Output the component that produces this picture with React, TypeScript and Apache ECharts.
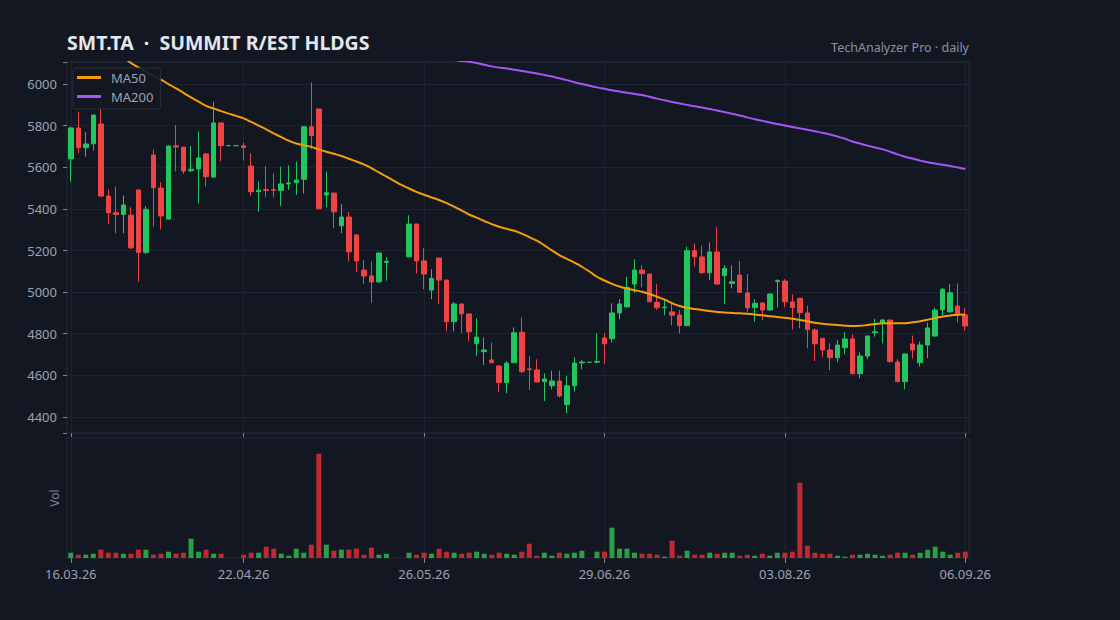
import React, { useEffect, useRef } from 'react';
import * as echarts from 'echarts';

const TITLE = 'SMT.TA  ·  SUMMIT R/EST HLDGS';
const SUBTITLE = 'TechAnalyzer Pro · daily';

const dates: string[] = [
  '16.03.26', '17.03.26', '18.03.26', '19.03.26', '20.03.26', '23.03.26', '24.03.26', '25.03.26', '26.03.26', '27.03.26',
  '30.03.26', '31.03.26', '01.04.26', '06.04.26', '07.04.26', '10.04.26', '13.04.26', '14.04.26', '15.04.26', '16.04.26',
  '17.04.26', '20.04.26', '21.04.26', '22.04.26', '23.04.26', '24.04.26', '27.04.26', '28.04.26', '29.04.26', '30.04.26',
  '01.05.26', '04.05.26', '05.05.26', '06.05.26', '07.05.26', '08.05.26', '11.05.26', '12.05.26', '13.05.26', '14.05.26',
  '15.05.26', '18.05.26', '19.05.26', '20.05.26', '21.05.26', '22.05.26', '25.05.26', '26.05.26', '27.05.26', '28.05.26',
  '29.05.26', '01.06.26', '02.06.26', '03.06.26', '04.06.26', '05.06.26', '08.06.26', '09.06.26', '10.06.26', '11.06.26',
  '12.06.26', '15.06.26', '16.06.26', '17.06.26', '18.06.26', '19.06.26', '22.06.26', '23.06.26', '24.06.26', '25.06.26',
  '26.06.26', '29.06.26', '30.06.26', '01.07.26', '02.07.26', '03.07.26', '06.07.26', '07.07.26', '08.07.26', '09.07.26',
  '10.07.26', '13.07.26', '14.07.26', '15.07.26', '16.07.26', '17.07.26', '20.07.26', '21.07.26', '22.07.26', '24.07.26',
  '27.07.26', '28.07.26', '29.07.26', '30.07.26', '31.07.26', '03.08.26', '04.08.26', '05.08.26', '06.08.26', '07.08.26',
  '10.08.26', '11.08.26', '12.08.26', '13.08.26', '14.08.26', '17.08.26', '18.08.26', '19.08.26', '20.08.26', '21.08.26',
  '24.08.26', '25.08.26', '26.08.26', '27.08.26', '28.08.26', '31.08.26', '01.09.26', '02.09.26', '03.09.26', '06.09.26',
];

// [open, close, low, high]
const ohlc: (number[] | null)[] = [
  [5640, 5789, 5531, 5795], [5789, 5694, 5667, 5867], [5694, 5712, 5651, 5768], [5713, 5851, 5680, 5853], [5808, 5462, 5458, 5925],
  [5462, 5382, 5326, 5494], [5382, 5373, 5283, 5507], [5373, 5419, 5283, 5465], [5370, 5213, 5207, 5408], [5491, 5191, 5050, 5493],
  [5191, 5398, 5183, 5414], [5659, 5502, 5314, 5686], [5500, 5366, 5302, 5528], [5351, 5702, 5348, 5705], [5703, 5697, 5580, 5803],
  [5697, 5582, 5568, 5699], [5583, 5591, 5577, 5702], [5592, 5645, 5427, 5773], [5664, 5555, 5507, 5668], [5553, 5813, 5550, 5915],
  [5813, 5704, 5629, 5815], [5704, 5704, 5704, 5704], [5704, 5704, 5704, 5704], [5703, 5695, 5633, 5718], [5606, 5483, 5463, 5667],
  [5483, 5490, 5386, 5531], [5492, 5489, 5458, 5606], [5492, 5489, 5456, 5571], [5488, 5520, 5415, 5603], [5520, 5525, 5491, 5610],
  [5526, 5539, 5467, 5627], [5542, 5795, 5474, 5797], [5795, 5752, 5686, 6008], [5880, 5401, 5398, 5883], [5467, 5478, 5408, 5579],
  [5476, 5386, 5307, 5478], [5319, 5361, 5283, 5422], [5361, 5194, 5146, 5386], [5275, 5150, 5098, 5277], [5106, 5077, 5039, 5154],
  [5078, 5049, 4949, 5146], [5049, 5188, 5047, 5190], [5143, 5148, 5055, 5167], null, null,
  [5170, 5327, 5168, 5369], [5327, 5150, 5090, 5329], [5150, 5087, 5014, 5211], [5010, 5066, 4966, 5110], [5164, 5058, 4942, 5166],
  [5058, 4858, 4812, 5060], [4858, 4943, 4812, 4953], [4943, 4896, 4804, 4945], [4895, 4810, 4762, 4897], [4752, 4784, 4693, 4874],
  [4714, 4722, 4650, 4783], [4674, 4661, 4659, 4757], [4645, 4565, 4519, 4647], [4565, 4659, 4514, 4668], [4661, 4805, 4659, 4831],
  [4807, 4618, 4610, 4879], [4631, 4627, 4530, 4693], [4626, 4568, 4566, 4677], [4570, 4583, 4477, 4610], [4550, 4573, 4533, 4622],
  [4573, 4501, 4494, 4622], [4459, 4550, 4418, 4598], [4550, 4659, 4522, 4687], [4660, 4664, 4629, 4674], [4663, 4663, 4663, 4663],
  [4663, 4667, 4661, 4802], [4780, 4752, 4655, 4802], [4776, 4900, 4757, 4946], [4900, 4943, 4869, 4966], [4929, 5023, 4927, 5074],
  [5039, 5106, 4997, 5158], [5106, 5089, 5023, 5130], [5087, 4954, 4952, 5089], [4951, 4925, 4914, 5038], [4925, 4928, 4889, 4962],
  [4905, 4889, 4841, 4954], [4890, 4839, 4802, 4914], [4839, 5199, 4837, 5218], [5199, 5170, 5122, 5234], [5169, 5093, 5090, 5223],
  [5093, 5193, 5058, 5239], [5193, 5039, 5034, 5312], [5079, 5114, 4942, 5130], [5041, 5050, 5018, 5129], [5082, 4999, 4996, 5150],
  [4996, 4925, 4906, 5087], [4925, 4946, 4858, 4966], [4948, 4914, 4866, 4950], [4914, 4991, 4912, 4993], [5051, 5055, 4927, 5062],
  [5053, 4954, 4927, 5062], [4953, 4926, 4821, 4990], [4970, 4901, 4826, 4972], [4900, 4820, 4730, 4935], [4818, 4752, 4669, 4826],
  [4778, 4722, 4687, 4780], [4722, 4685, 4626, 4754], [4685, 4746, 4663, 4770], [4733, 4775, 4701, 4807], [4775, 4608, 4606, 4797],
  [4608, 4693, 4586, 4711], [4693, 4789, 4677, 4791], [4805, 4809, 4786, 4872], [4853, 4866, 4754, 4870], [4866, 4666, 4662, 4868],
  [4664, 4570, 4567, 4677], [4570, 4703, 4533, 4705], [4751, 4722, 4682, 4791], [4661, 4746, 4642, 4762], [4746, 4828, 4682, 4853],
  [4789, 4914, 4786, 4925], [4914, 5014, 4890, 5021], [4905, 4997, 4903, 5038], [4933, 4890, 4853, 5042], [4890, 4837, 4815, 4922],
];

// volume, thousands of shares
const volumes: (number | null)[] = [
  53, 33, 33, 43, 83, 53, 53, 43, 43, 83,
  83, 33, 43, 63, 43, 53, 193, 63, 83, 43,
  43, null, null, 33, 53, 53, 113, 93, 43, 23,
  93, 53, 133, 1043, 133, 73, 83, 83, 93, 33,
  103, 33, 43, null, null, 53, 33, 53, 43, 93,
  63, 53, 43, 53, 63, 43, 33, 53, 43, 33,
  63, 143, 23, 53, 23, 53, 43, 53, 73, null,
  63, 63, 303, 93, 93, 53, 43, 43, 33, 13,
  173, 23, 73, 33, 33, 53, 43, 53, 53, 23,
  33, 23, 43, 23, 53, 53, 63, 753, 123, 53,
  43, 43, 23, 13, 33, 33, 43, 33, 23, 33,
  53, 53, 33, 53, 83, 113, 63, 33, 53, 63,
];

const ma50: number[] = [
  6310, 6285, 6260, 6235, 6208, 6182, 6155, 6128, 6102, 6080,
  6058, 6040, 6021, 6000, 5979, 5958, 5936, 5915, 5895, 5883,
  5870, 5858, 5847, 5835, 5818, 5800, 5782, 5763, 5745, 5728,
  5714, 5707, 5698, 5686, 5675, 5665, 5654, 5641, 5628, 5614,
  5596, 5575, 5555, 5535, 5515, 5498, 5482, 5468, 5455, 5443,
  5428, 5411, 5392, 5373, 5358, 5342, 5327, 5314, 5304, 5295,
  5281, 5264, 5247, 5225, 5201, 5178, 5160, 5142, 5122, 5099,
  5074, 5056, 5040, 5027, 5017, 5009, 5002, 4991, 4978, 4964,
  4947, 4933, 4925, 4919, 4914, 4909, 4905, 4902, 4900, 4898,
  4896, 4893, 4889, 4884, 4881, 4877, 4872, 4866, 4860, 4853,
  4848, 4845, 4842, 4839, 4837, 4838, 4842, 4847, 4850, 4850,
  4850, 4851, 4855, 4860, 4867, 4876, 4883, 4888, 4891, 4892,
];

const ma200: number[] = [
  6478, 6471, 6465, 6458, 6452, 6445, 6438, 6431, 6425, 6418,
  6411, 6404, 6398, 6391, 6384, 6377, 6370, 6363, 6356, 6349,
  6342, 6336, 6330, 6324, 6317, 6310, 6303, 6296, 6289, 6281,
  6273, 6265, 6257, 6249, 6241, 6233, 6225, 6217, 6209, 6201,
  6193, 6185, 6177, 6169, 6162, 6155, 6148, 6141, 6135, 6129,
  6122, 6115, 6111, 6107, 6101, 6093, 6085, 6079, 6075, 6069,
  6063, 6057, 6051, 6044, 6036, 6028, 6019, 6009, 6000, 5992,
  5984, 5977, 5970, 5964, 5958, 5952, 5947, 5939, 5930, 5922,
  5914, 5907, 5900, 5893, 5887, 5880, 5873, 5865, 5857, 5849,
  5840, 5831, 5823, 5815, 5808, 5801, 5794, 5787, 5780, 5773,
  5766, 5758, 5748, 5737, 5724, 5714, 5704, 5695, 5686, 5675,
  5662, 5651, 5642, 5632, 5624, 5618, 5612, 5606, 5599, 5592,
];

const BG = '#131722';
const UP = '#22c55e';
const DOWN = '#ef4444';
const VOL_UP = '#27a046';
const VOL_DOWN = '#c0292f';
const GRID_LINE = '#1e2331';
const BORDER = '#262b38';
const TICK = '#7d8494';
const LABEL = '#9aa3b2';
const FONT = "'Noto Sans', sans-serif";

export default function App() {
  const ref = useRef<HTMLDivElement>(null);

  useEffect(() => {
    if (!ref.current) return;
    const chart = echarts.init(ref.current, null, { renderer: 'svg' });
    const N = dates.length;
    const showIdx = (i: number) => i === 0 || (N - 1 - i) % 24 === 0;

    const volData = volumes.map((v, i) => {
      const c = ohlc[i];
      const up = c ? c[1] >= c[0] : true;
      return v == null ? '-' : { value: v, itemStyle: { color: up ? VOL_UP : VOL_DOWN } };
    });

    chart.setOption({
      animation: false,
      backgroundColor: BG,
      textStyle: { fontFamily: FONT },
      title: [
        {
          text: TITLE,
          left: 62,
          top: 27,
          textStyle: { color: '#e3e6ee', fontSize: 19.5, fontWeight: 'bold', fontFamily: FONT },
        },
        {
          text: SUBTITLE,
          right: 146,
          top: 36,
          textStyle: { color: '#8a91a0', fontSize: 12.5, fontWeight: 'normal', fontFamily: FONT },
        },
      ],
      legend: {
        data: ['MA50', 'MA200'],
        left: 73,
        top: 68,
        orient: 'vertical',
        icon: 'rect',
        itemWidth: 24,
        itemHeight: 3,
        itemGap: 6,
        padding: [3, 7, 6, 4],
        backgroundColor: 'rgba(19,23,34,0.9)',
        borderColor: '#2a2f3c',
        borderWidth: 1,
        borderRadius: 3,
        textStyle: { color: LABEL, fontSize: 13, fontFamily: FONT, padding: [0, 0, 0, 5] },
      },
      grid: [
        { left: 67, right: 151, top: 62, height: 371, show: true, borderColor: BORDER, borderWidth: 1 },
        { left: 67, right: 151, top: 438, height: 120, show: true, borderColor: BORDER, borderWidth: 1 },
      ],
      xAxis: [
        {
          type: 'category',
          gridIndex: 0,
          data: dates,
          boundaryGap: true,
          axisLine: { show: false },
          axisTick: { show: true, alignWithLabel: true, interval: (i: number) => showIdx(i), length: 4, lineStyle: { color: TICK } },
          axisLabel: { show: false },
          splitLine: { show: true, alignWithLabel: true, interval: (i: number) => showIdx(i), lineStyle: { color: GRID_LINE } },
        },
        {
          type: 'category',
          gridIndex: 1,
          data: dates,
          boundaryGap: true,
          axisLine: { show: false },
          axisTick: { show: true, alignWithLabel: true, interval: (i: number) => showIdx(i), length: 5, lineStyle: { color: TICK } },
          axisLabel: { show: true, interval: (i: number) => showIdx(i), color: LABEL, fontSize: 13, margin: 9, fontFamily: FONT },
          splitLine: { show: true, alignWithLabel: true, interval: (i: number) => showIdx(i), lineStyle: { color: GRID_LINE } },
        },
      ],
      yAxis: [
        {
          type: 'value',
          gridIndex: 0,
          min: 4323,
          max: 6106,
          splitNumber: 8,
          axisLine: { show: false },
          axisTick: { show: true, length: 4, lineStyle: { color: TICK } },
          axisLabel: {
            color: LABEL,
            fontSize: 13,
            margin: 10,
            fontFamily: FONT,
            formatter: (v: number) => (v % 200 === 0 ? String(v) : ''),
          },
          splitLine: { show: true, lineStyle: { color: GRID_LINE } },
        },
        {
          type: 'value',
          gridIndex: 1,
          min: 0,
          max: (v: { max: number }) => v.max * 1.15,
          name: 'Vol',
          nameLocation: 'middle',
          nameGap: 7,
          nameRotate: 90,
          nameTextStyle: { color: '#7d8494', fontSize: 12, fontFamily: FONT },
          axisLine: { show: false },
          axisTick: { show: false },
          axisLabel: { show: false },
          splitLine: { show: false },
        },
      ],
      series: [
        {
          name: 'Price',
          type: 'candlestick',
          xAxisIndex: 0,
          yAxisIndex: 0,
          barWidth: 5,
          data: ohlc.map((d) => (d ? d : '-')),
          itemStyle: {
            color: UP,
            color0: DOWN,
            borderColor: UP,
            borderColor0: DOWN,
            borderColorDoji: UP,
            borderWidth: 1,
          },
        },
        {
          name: 'MA50',
          type: 'line',
          xAxisIndex: 0,
          yAxisIndex: 0,
          data: ma50,
          symbol: 'none',
          smooth: true,
          clip: true,
          lineStyle: { color: '#f59e0b', width: 2 },
          itemStyle: { color: '#f59e0b' },
        },
        {
          name: 'MA200',
          type: 'line',
          xAxisIndex: 0,
          yAxisIndex: 0,
          data: ma200,
          symbol: 'none',
          smooth: true,
          clip: true,
          lineStyle: { color: '#a855f7', width: 2 },
          itemStyle: { color: '#a855f7' },
        },
        {
          name: 'Volume',
          type: 'bar',
          xAxisIndex: 1,
          yAxisIndex: 1,
          barWidth: 5,
          data: volData,
        },
      ],
    });

    return () => chart.dispose();
  }, []);

  return (
    <div
      ref={ref}
      style={{ position: 'fixed', left: 0, top: 0, width: 1120, height: 620, background: BG }}
    />
  );
}
